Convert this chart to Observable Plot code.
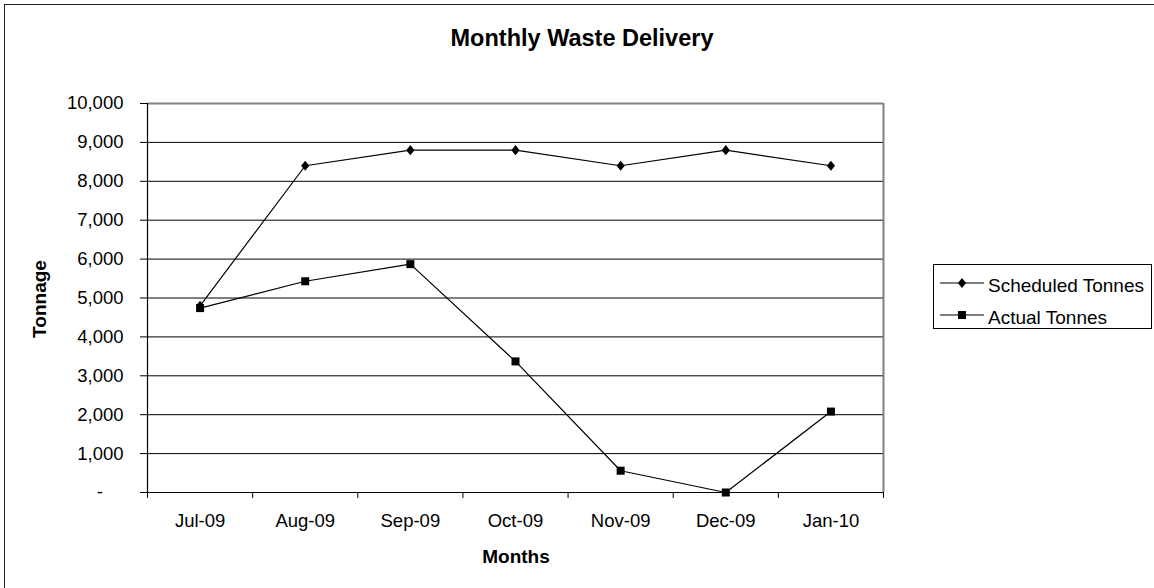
<!DOCTYPE html>
<html>
<head>
<meta charset="utf-8">
<script src="https://cdn.jsdelivr.net/npm/d3@7"></script>
<script src="https://cdn.jsdelivr.net/npm/@observablehq/plot@0.6"></script>
<style>
  html, body { margin: 0; padding: 0; background: #fff; overflow: hidden; }
  #wrap { position: relative; width: 1154px; height: 588px; font-family: "Liberation Sans", Arial, sans-serif; color: #000; }
  #outer { position: absolute; left: 4px; top: 4px; width: 1170px; height: 610px; border: 1.5px solid #222; box-sizing: border-box; }
  #chart { position: absolute; left: 0; top: 0; }
  .lbl { position: absolute; font-weight: bold; line-height: 1; white-space: nowrap; }
  #legend { position: absolute; left: 933px; top: 264px; }
</style>
</head>
<body>
<div id="wrap">
  <div id="outer"></div>
  <div id="chart"></div>
  <div class="lbl" id="title" style="font-size:23.5px; left:582px; top:27px; transform:translateX(-50%);">Monthly Waste Delivery</div>
  <div class="lbl" id="xlab" style="font-size:19px; left:516px; top:547px; transform:translateX(-50%);">Months</div>
  <div class="lbl" id="ylab" style="font-size:19px; left:39px; top:299px; transform:translate(-50%,-50%) rotate(-90deg);">Tonnage</div>
  <div id="legend"></div>
</div>
<script>
const months = ["Jul-09", "Aug-09", "Sep-09", "Oct-09", "Nov-09", "Dec-09", "Jan-10"];
const scheduled = [4800, 8400, 8800, 8800, 8400, 8800, 8400];
const actual = [4740, 5430, 5870, 3370, 560, 0, 2080];
const seriesNames = ["Scheduled Tonnes", "Actual Tonnes"];
const yTicks = d3.range(0, 10001, 1000);

const data = months.map((m, i) => ({i, m, s: scheduled[i], a: actual[i]}));

const diamond = {
  draw(ctx, size) {
    const q = Math.sqrt(size);
    const h = q * 0.72, w = q * 0.58;
    ctx.moveTo(0, -h); ctx.lineTo(w, 0); ctx.lineTo(0, h); ctx.lineTo(-w, 0); ctx.closePath();
  }
};
const square = {
  draw(ctx, size) {
    const s = Math.sqrt(size) * 0.564;
    ctx.moveTo(-s, -s); ctx.lineTo(s, -s); ctx.lineTo(s, s); ctx.lineTo(-s, s); ctx.closePath();
  }
};

const plot = Plot.plot({
  width: 1154,
  height: 588,
  marginLeft: 147,
  marginRight: 1154 - 883,
  marginTop: 103,
  marginBottom: 96,
  x: {type: "linear", domain: [-0.5, months.length - 0.5]},
  y: {domain: [0, 10000]},
  style: {fontFamily: "'Liberation Sans', Arial, sans-serif", fontSize: "18.5px", color: "black", background: "transparent"},
  marks: [
    Plot.gridY(d3.range(1000, 10000, 1000), {stroke: "black", strokeOpacity: 1, strokeWidth: 1}),
    Plot.ruleY([10000], {stroke: "#808080", strokeWidth: 2}),
    Plot.ruleX([months.length - 0.5], {stroke: "#808080", strokeWidth: 2}),
    Plot.ruleY([0], {stroke: "black", strokeWidth: 1.2}),
    Plot.ruleX([-0.5], {stroke: "black", strokeWidth: 1.2}),
    Plot.axisY({ticks: yTicks, tickSize: 7, tickPadding: 17, label: null,
      tickFormat: d => d === 0 ? "-\u00a0\u00a0\u00a0\u00a0" : d3.format(",")(d)}),
    Plot.axisX({ticks: d3.range(-0.5, months.length, 1), tickSize: 6, tickFormat: () => "", label: null}),
    Plot.axisX({ticks: d3.range(0, months.length), tickSize: 0, tickPadding: 21, label: null,
      tickFormat: i => months[i]}),
    Plot.line(data, {x: "i", y: "s", stroke: "black", strokeWidth: 1.2}),
    Plot.line(data, {x: "i", y: "a", stroke: "black", strokeWidth: 1.2}),
    Plot.dot(data, {x: "i", y: "s", r: 4, symbol: diamond, fill: "black", stroke: "none"}),
    Plot.dot(data, {x: "i", y: "a", r: 4, symbol: square, fill: "black", stroke: "none"})
  ]
});
document.getElementById("chart").appendChild(plot);

// Legend
const lg = d3.select("#legend").append("svg").attr("width", 220).attr("height", 66)
  .style("font-family", "'Liberation Sans', Arial, sans-serif");
lg.append("rect").attr("x", 0.5).attr("y", 0.5).attr("width", 218).attr("height", 64)
  .attr("fill", "white").attr("stroke", "black").attr("stroke-width", 1);
const rows = [19, 51];
const syms = [diamond, square];
seriesNames.forEach((name, k) => {
  const g = lg.append("g").attr("transform", `translate(0,${rows[k]})`);
  g.append("line").attr("x1", 7).attr("x2", 51).attr("y1", 0).attr("y2", 0).attr("stroke", "black").attr("stroke-width", 1.2);
  g.append("path").attr("transform", "translate(29,0)").attr("d", d3.symbol(syms[k], Math.PI * 16)()).attr("fill", "black");
  g.append("text").attr("x", 55).attr("y", 5).attr("dy", "0.2em").attr("font-size", "19px").text(name);
});
</script>
</body>
</html>
